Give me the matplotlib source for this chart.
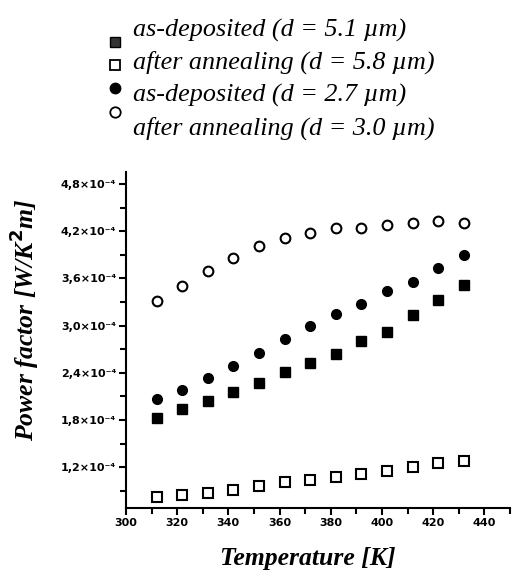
import numpy as np
from matplotlib import pyplot as plt
from matplotlib.lines import Line2D
from matplotlib.ticker import FixedLocator, MultipleLocator, FuncFormatter

# temperatures of the measurement points [K]
temperature = [312, 322, 332, 342, 352, 362, 372, 382, 392, 402, 412, 422, 432]

# power factor values in units of 1e-4 W/K^2m
pf_dep_51 = [1.82, 1.94, 2.04, 2.15, 2.27, 2.41, 2.52, 2.64, 2.80, 2.92, 3.13, 3.32, 3.51]
pf_ann_58 = [0.82, 0.84, 0.87, 0.91, 0.96, 1.01, 1.04, 1.07, 1.11, 1.15, 1.20, 1.25, 1.28]
pf_dep_27 = [2.06, 2.18, 2.33, 2.48, 2.65, 2.83, 3.00, 3.15, 3.27, 3.44, 3.55, 3.73, 3.90]
pf_ann_30 = [3.31, 3.50, 3.69, 3.86, 4.01, 4.11, 4.18, 4.24, 4.24, 4.28, 4.30, 4.33, 4.30]

legend_labels = ["as-deposited (d = 5.1 \u00b5m)",
                 "after annealing (d = 5.8 \u00b5m)",
                 "as-deposited (d = 2.7 \u00b5m)",
                 "after annealing (d = 3.0 \u00b5m)"]

x_ticks = [300, 320, 340, 360, 380, 400, 420, 440]
y_ticks = [1.2, 1.8, 2.4, 3.0, 3.6, 4.2, 4.8]
y_tick_labels = ["1,2\u00d710\u207b\u2074", "1,8\u00d710\u207b\u2074", "2,4\u00d710\u207b\u2074",
                 "3,0\u00d710\u207b\u2074", "3,6\u00d710\u207b\u2074", "4,2\u00d710\u207b\u2074",
                 "4,8\u00d710\u207b\u2074"]

fig = plt.figure(figsize=(5.12, 5.77), dpi=100)
ax = fig.add_axes([0.246, 0.1196, 0.75, 0.582])

ms = 6.5
ax.plot(temperature, pf_dep_51, 's', color='black', ms=ms, mec='black')
ax.plot(temperature, pf_ann_58, 's', color='white', ms=ms, mec='black', mew=1.5)
ax.plot(temperature, pf_dep_27, 'o', color='black', ms=7, mec='black')
ax.plot(temperature, pf_ann_30, 'o', color='white', ms=7, mec='black', mew=1.5)

ax.set_xlim(300, 450)
ax.set_ylim(0.68, 4.95)

ax.xaxis.set_major_locator(FixedLocator(x_ticks))
ax.xaxis.set_minor_locator(MultipleLocator(10))
ax.yaxis.set_major_locator(FixedLocator(y_ticks))
ax.yaxis.set_minor_locator(MultipleLocator(0.3))
ax.yaxis.set_major_formatter(FuncFormatter(lambda v, p: y_tick_labels[y_ticks.index(round(v, 1))]))

for s in ['top', 'right']:
    ax.spines[s].set_visible(False)
for s in ['left', 'bottom']:
    ax.spines[s].set_linewidth(1.5)

ax.tick_params(which='major', direction='out', length=5, width=1.5, pad=2,
               labelsize=8)
ax.tick_params(which='minor', direction='out', length=4, width=1.5)
for lab in ax.get_xticklabels() + ax.get_yticklabels():
    lab.set_fontweight('bold')
    lab.set_family('DejaVu Sans')

H = 577.0
W = 512.0
fig.text(308 / W, 1 - 559 / H, "Temperature [K]", fontsize=18.5, fontweight='bold',
         fontstyle='italic', family='Liberation Serif', ha='center', va='center')
fig.text(24 / W, 1 - 320 / H, "Power factor [W/K$^{\\mathbf{2}}$m]", rotation=90,
         ha='center', va='center', fontsize=18.5, fontweight='bold', fontstyle='italic',
         family='Liberation Serif')

# legend drawn at the top, markers sitting between the text lines
text_y = [30, 62, 95, 128]
marker_y = [42, 65, 88, 112]
styles = [dict(marker='s', mfc='#333333', mec='black', ms=7, mew=1),
          dict(marker='s', mfc='white', mec='black', ms=7, mew=1.3),
          dict(marker='o', mfc='black', mec='black', ms=7.5),
          dict(marker='o', mfc='white', mec='black', ms=7.5, mew=1.3)]
for lab, ty, my, st in zip(legend_labels, text_y, marker_y, styles):
    fig.text(133 / W, 1 - ty / H, lab, fontsize=18.8, fontstyle='italic',
             family='Liberation Serif', va='center', ha='left')
    fig.add_artist(Line2D([115 / W], [1 - my / H], linestyle='none',
                          transform=fig.transFigure, **st))

fig.savefig("out.png", dpi=100)
